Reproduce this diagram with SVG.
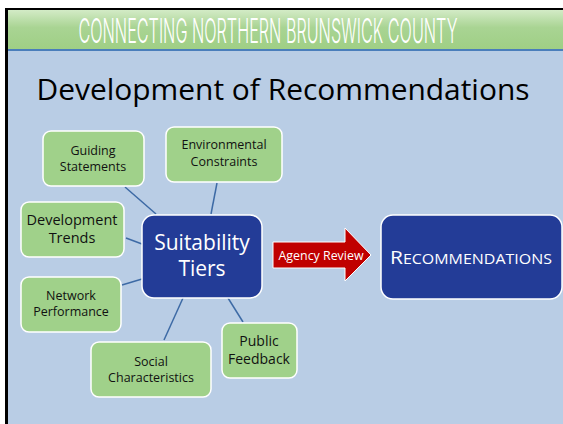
<svg xmlns="http://www.w3.org/2000/svg" width="563" height="424" viewBox="0 0 563 424">
<defs>
<linearGradient id="hdr" x1="0" y1="0" x2="0" y2="1">
<stop offset="0" stop-color="#d3ebc6"/>
<stop offset="0.45" stop-color="#a9d493"/>
<stop offset="1" stop-color="#9fcf85"/>
</linearGradient>
<style>
.leaf{fill:#a0d18a;stroke:#ffffff;stroke-width:1.5}
.hub{fill:#233c97;stroke:#ffffff;stroke-width:1.5}
.lt{font-family:"Open Sans","Liberation Sans",sans-serif;fill:#111;text-anchor:middle}
.wt{font-family:"Open Sans","Liberation Sans",sans-serif;fill:#fff;text-anchor:middle}
.con{stroke:#3d6aa5;stroke-width:1.5;fill:none}
</style>
</defs>
<rect x="0" y="0" width="563" height="424" fill="#ffffff"/>
<rect x="5" y="8" width="558" height="416" fill="#000000"/>
<rect x="8" y="10" width="555" height="414" fill="#b9cde5"/>
<rect x="8" y="10" width="555" height="39" fill="url(#hdr)"/>
<rect x="8" y="49" width="555" height="2" fill="#4a7ebb"/>
<text x="268" y="43" font-family="Inter,'DejaVu Sans Condensed',sans-serif" font-size="34" font-weight="300" fill="#ffffff" text-anchor="middle" textLength="379" lengthAdjust="spacingAndGlyphs">CONNECTING NORTHERN BRUNSWICK COUNTY</text>
<text x="283" y="100" font-family="'Open Sans','Liberation Sans',sans-serif" font-size="30" fill="#000" text-anchor="middle" textLength="493" lengthAdjust="spacingAndGlyphs">Development of Recommendations</text>
<g id="connectors">
<line class="con" x1="125" y1="187" x2="156" y2="214"/>
<line class="con" x1="217" y1="183" x2="211" y2="214"/>
<line class="con" x1="126" y1="238" x2="142" y2="244"/>
<line class="con" x1="122" y1="285" x2="142" y2="279"/>
<line class="con" x1="183" y1="298" x2="164" y2="340"/>
<line class="con" x1="228" y1="298" x2="243" y2="322"/>
</g>
<g id="guiding">
<rect class="leaf" x="43" y="131" width="101" height="55" rx="8"/>
<text class="lt" font-size="12.5"><tspan x="93" y="155">Guiding</tspan><tspan x="93" y="171">Statements</tspan></text>
</g>
<g id="environmental">
<rect class="leaf" x="166" y="127" width="116" height="55" rx="8"/>
<text class="lt" font-size="12.5"><tspan x="224" y="149">Environmental</tspan><tspan x="224" y="166">Constraints</tspan></text>
</g>
<g id="devtrends">
<rect class="leaf" x="21" y="202" width="103" height="55" rx="8"/>
<text class="lt" font-size="14.5"><tspan x="72" y="225">Development</tspan><tspan x="72" y="243">Trends</tspan></text>
</g>
<g id="network">
<rect class="leaf" x="21" y="277" width="100" height="55" rx="8"/>
<text class="lt" font-size="12.5"><tspan x="71" y="300">Network</tspan><tspan x="71" y="316">Performance</tspan></text>
</g>
<g id="social">
<rect class="leaf" x="91" y="342" width="120" height="55" rx="8"/>
<text class="lt" font-size="12.5"><tspan x="151" y="366">Social</tspan><tspan x="151" y="382">Characteristics</tspan></text>
</g>
<g id="public">
<rect class="leaf" x="222" y="323" width="75" height="55" rx="8"/>
<text class="lt" font-size="14"><tspan x="259" y="346">Public</tspan><tspan x="259" y="364">Feedback</tspan></text>
</g>
<g id="suitability">
<rect class="hub" x="142" y="215" width="120" height="83" rx="12"/>
<text class="wt" font-size="21"><tspan x="202" y="250">Suitability</tspan><tspan x="202" y="276">Tiers</tspan></text>
</g>
<g id="agency">
<polygon points="273,242 345,242 345,228 371,255 345,281 345,268 273,268" fill="#c00000" stroke="#ffffff" stroke-width="1"/>
<text class="wt" x="321" y="260" font-size="12" textLength="85" lengthAdjust="spacingAndGlyphs">Agency Review</text>
</g>
<g id="recommendations">
<rect class="hub" x="381" y="215" width="181" height="84" rx="12"/>
<text class="wt" x="471" y="264" textLength="162" lengthAdjust="spacingAndGlyphs"><tspan font-size="19">R</tspan><tspan font-size="14.5">ECOMMENDATIONS</tspan></text>
</g>
</svg>
